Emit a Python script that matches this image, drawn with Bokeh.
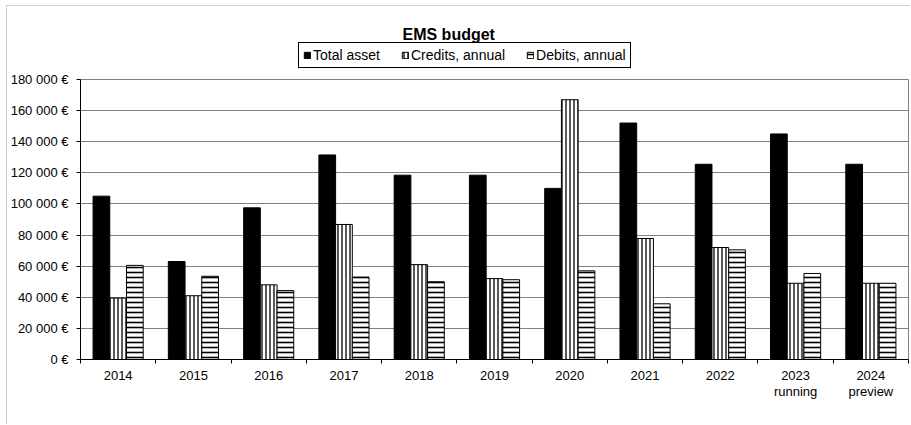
from bokeh.plotting import figure
from bokeh.layouts import column
from bokeh.models import (ColumnDataSource, Range1d, LinearAxis, FixedTicker,
                          Legend, Label)
from bokeh.transform import dodge
from bokeh.embed import file_html
from bokeh.resources import INLINE

# ---- data ----
years = ["2014", "2015", "2016", "2017", "2018", "2019", "2020", "2021",
         "2022", "2023\nrunning", "2024\npreview"]
total_asset = [105000, 63000, 97500, 131500, 118500, 118500, 110000,
               152000, 125500, 145000, 125500]
credits_annual = [39500, 41000, 48000, 86800, 61000, 52000, 167000,
                  77800, 72000, 49000, 49000]
debits_annual = [60500, 53500, 44300, 53000, 50000, 51300, 57000,
                 35800, 70500, 55300, 49000]
series_names = ["Total asset", "Credits, annual", "Debits, annual"]
y_ticks = [0, 20000, 40000, 60000, 80000, 100000, 120000, 140000, 160000, 180000]
y_tick_labels = ["0 €", "20 000 €", "40 000 €", "60 000 €", "80 000 €",
                 "100 000 €", "120 000 €", "140 000 €", "160 000 €", "180 000 €"]
title_text = "EMS budget"

FONT = "Liberation Sans"
bw = 0.222
styles = [
    dict(fill_color="black", line_color="black"),
    dict(fill_color="white", line_color="black", hatch_pattern="vertical_line",
         hatch_color="black", hatch_scale=4, hatch_weight=1.3),
    dict(fill_color="white", line_color="black", hatch_pattern="horizontal_line",
         hatch_color="black", hatch_scale=5, hatch_weight=1.6),
]

n = len(years)
centers = [i + 0.5 for i in range(n)]
src = ColumnDataSource(dict(x=centers, year=years, total=total_asset,
                            credits=credits_annual, debits=debits_annual))

LEFT = 73
RIGHT = 2

# ---------- header: title + legend ----------
top = figure(width=903, height=63, output_backend="svg", toolbar_location=None,
             x_range=Range1d(0, 1), y_range=Range1d(0, 1),
             x_axis_location=None, y_axis_location=None,
             min_border_left=LEFT, min_border_right=RIGHT,
             min_border_top=0, min_border_bottom=0,
             outline_line_color=None, background_fill_color="white",
             border_fill_color="white")
top.xgrid.visible = False
top.ygrid.visible = False
# off-screen helper glyphs that only provide the legend swatches
helper = ColumnDataSource(dict(x=[-10], top=[0]))
swatches = [top.vbar(x="x", top="top", width=0.1, source=helper, **s) for s in styles]

top.add_layout(Label(x=395 - LEFT, y=35, x_units="screen", y_units="screen",
                     text=title_text, text_font=FONT, text_font_size="16px",
                     text_font_style="bold", text_color="black",
                     text_baseline="alphabetic", text_align="left"))

lg = Legend(items=[(name, [r]) for name, r in zip(series_names, swatches)],
            orientation="horizontal", location=(218, 1),
            border_line_color="black", border_line_width=1, border_line_alpha=1,
            background_fill_color="white", background_fill_alpha=1,
            glyph_width=8, glyph_height=8,
            label_standoff=2, spacing=21, padding=4, margin=0,
            label_text_font=FONT, label_text_font_size="14px",
            label_text_color="black", label_height=12)
top.add_layout(lg)

# ---------- main chart ----------
p = figure(width=903, height=355, output_backend="svg", toolbar_location=None,
           x_range=Range1d(0, n),
           y_range=Range1d(0, 180000),
           x_axis_location=None,
           min_border_left=LEFT, min_border_right=RIGHT,
           min_border_top=10, min_border_bottom=65,
           background_fill_color="white", border_fill_color="white",
           outline_line_color="#808080")

p.vbar(x=dodge("x", -bw), top="total", width=bw, source=src, **styles[0])
p.vbar(x=dodge("x", 0), top="credits", width=bw, source=src, **styles[1])
p.vbar(x=dodge("x", bw), top="debits", width=bw, source=src, **styles[2])

# y axis
yt = FixedTicker(ticks=y_ticks)
p.yaxis.ticker = yt
p.ygrid.ticker = yt
p.yaxis.major_label_overrides = {t: l for t, l in zip(y_ticks, y_tick_labels)}
p.yaxis.major_label_text_font = FONT
p.yaxis.major_label_text_font_size = "13px"
p.yaxis.major_label_text_color = "black"
p.yaxis.major_label_standoff = 8
p.yaxis.major_tick_in = 0
p.yaxis.major_tick_out = 4
p.yaxis.minor_tick_line_color = None
p.yaxis.axis_line_color = "black"
p.yaxis.major_tick_line_color = "black"

p.ygrid.grid_line_color = "#808080"
p.xgrid.grid_line_color = None

# x axis: tick marks at category boundaries + category labels at centers
tick_axis = LinearAxis(ticker=FixedTicker(ticks=list(range(n + 1))),
                       major_label_text_font_size="1px", major_label_standoff=0,
                       major_label_text_color=None,
                       major_tick_in=0, major_tick_out=4,
                       minor_tick_line_color=None,
                       axis_line_color="black", major_tick_line_color="black")
p.add_layout(tick_axis, "below")
cat_axis = LinearAxis(ticker=FixedTicker(ticks=centers),
                      major_label_overrides={c: y for c, y in zip(centers, years)},
                      axis_line_color=None, major_tick_line_color=None,
                      minor_tick_line_color=None,
                      major_tick_in=0, major_tick_out=0,
                      major_label_standoff=4,
                      major_label_text_font=FONT,
                      major_label_text_font_size="13px",
                      major_label_text_color="black",
                      major_label_text_line_height=1.1)
p.add_layout(cat_axis, "below")

layout = column(top, p, spacing=0)
layout.styles = {"margin-left": "6px", "margin-top": "5px",
                 "border-top": "1px solid #cfcfcf", "border-left": "1px solid #cfcfcf"}

open("out.html", "w").write(file_html(layout, INLINE))
